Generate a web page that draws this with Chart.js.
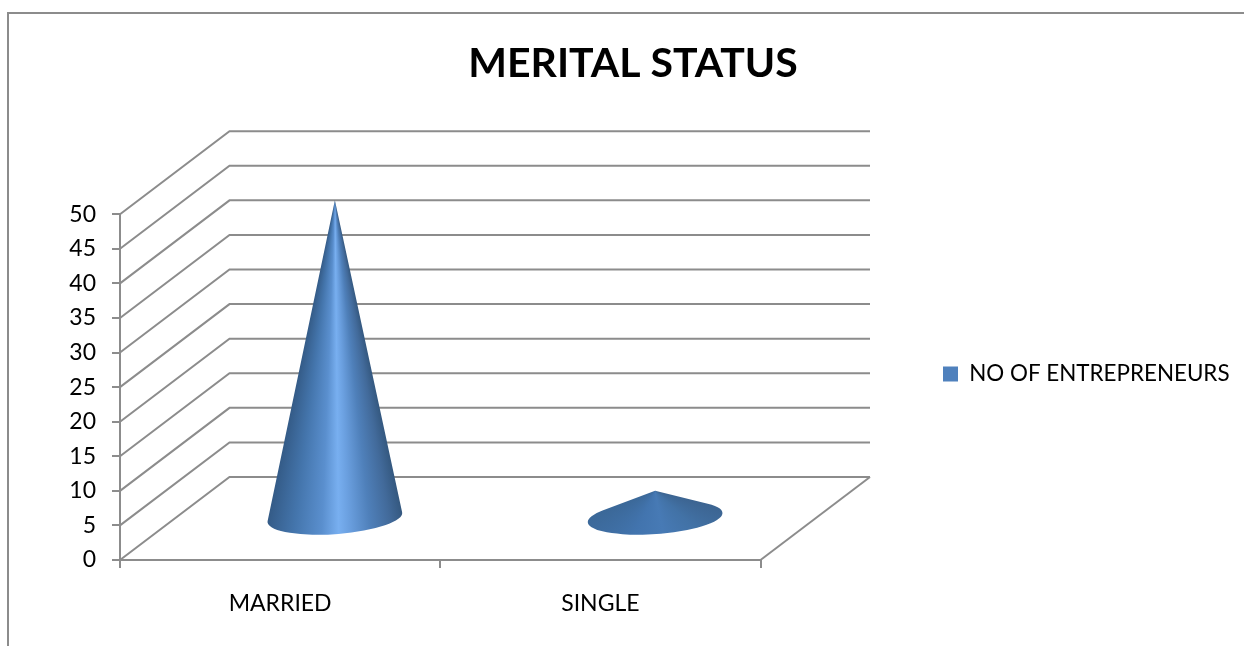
<!DOCTYPE html>
<html>
<head>
<meta charset="utf-8">
<title>Merital status</title>
<script src="https://cdn.jsdelivr.net/npm/chart.js@4"></script>
<style>
    html, body { margin: 0; padding: 0; background: #fff; }
    #wrap { width: 1244px; height: 646px; }
</style>
</head>
<body>
<div id="wrap"><canvas id="statusChart" width="1244" height="646"></canvas></div>
<script>
const categories = ['MARRIED', 'SINGLE'];
const entrepreneurs = [46, 4];
const seriesName = 'NO OF ENTREPRENEURS';
const chartTitle = 'MERITAL STATUS';
const yMax = 50;
const yStep = 5;

const GREY = '#8c8c8c';
const FONT = 'Lato';
// offset of the back wall from the front plane
const DEPTH_X = 109.5;
const DEPTH_Y = 83;

// shading of each cone, left edge to right edge
const coneShades = [
    [[0, '#345b87'], [0.2, '#4475ac'], [0.4, '#5a8fce'], [0.52, '#78aff0'], [0.6, '#6a9fdf'], [0.75, '#4f80ba'], [0.9, '#426a9a'], [1, '#34587f']],
    [[0, '#3b6898'], [0.3, '#4274ae'], [0.55, '#477ab5'], [0.8, '#4272a6'], [1, '#3c6491']]
];

function drawCone(ctx, x, tipY, baseY, shades) {
    const rx = 67.5, ry = 16.6, rot = -0.07;
    const cx = x + DEPTH_X / 2;
    const cy = baseY - DEPTH_Y / 2;
    const tipX = cx;
    const top = tipY - DEPTH_Y / 2;

    // tangent points from the tip onto the tilted base ellipse
    const dx = tipX - cx, dy = top - cy;
    const u = (dx * Math.cos(rot) + dy * Math.sin(rot)) / rx;
    const v = (-dx * Math.sin(rot) + dy * Math.cos(rot)) / ry;
    const mid = Math.atan2(v, u);
    const spread = Math.acos(1 / Math.hypot(u, v));
    const a1 = mid + spread, a2 = mid - spread;
    const onEllipse = a => [
        cx + rx * Math.cos(a) * Math.cos(rot) - ry * Math.sin(a) * Math.sin(rot),
        cy + rx * Math.cos(a) * Math.sin(rot) + ry * Math.sin(a) * Math.cos(rot)
    ];
    const pr = onEllipse(a1), pl = onEllipse(a2);

    // shading fans out from the tip
    const startAngle = Math.atan2(pr[1] - top, pr[0] - tipX);
    const endAngle = Math.atan2(pl[1] - top, pl[0] - tipX);
    const span = (endAngle - startAngle) / (2 * Math.PI);
    const grad = ctx.createConicGradient(startAngle, tipX, top);
    shades.forEach(([t, colour]) => grad.addColorStop((1 - t) * span, colour));
    grad.addColorStop(Math.min(span + 0.001, 1), shades[0][1]);
    grad.addColorStop(1, shades[shades.length - 1][1]);

    ctx.save();
    ctx.beginPath();
    ctx.moveTo(tipX, top);
    ctx.ellipse(cx, cy, rx, ry, rot, a1, a2, false);
    ctx.closePath();
    ctx.fillStyle = grad;
    ctx.fill();
    ctx.restore();
}

const wallsAndCones = {
    id: 'wallsAndCones',
    afterLayout(chart) {
        // title and legend sit outside the plot's own column
        chart.titleBlock.left = 0;
        chart.titleBlock.right = 1266;
        const legend = chart.legend;
        legend.left = 933;
        legend.right = 1244;
        legend.top += 51;
        legend.bottom += 51;
    },
    beforeDraw(chart) {
        const ctx = chart.ctx;
        ctx.save();
        ctx.strokeStyle = GREY;
        ctx.lineWidth = 2;
        ctx.beginPath();
        ctx.moveTo(8, 646);
        ctx.lineTo(8, 13);
        ctx.lineTo(1244, 13);
        ctx.stroke();
        ctx.restore();
    },
    beforeDatasetsDraw(chart) {
        const ctx = chart.ctx;
        const y = chart.scales.y, x = chart.scales.x;
        ctx.save();
        ctx.strokeStyle = GREY;
        ctx.lineWidth = 2;
        y.ticks.forEach((tick, i) => {
            const py = y.getPixelForTick(i);
            ctx.beginPath();
            ctx.moveTo(x.left, py);
            ctx.lineTo(x.left + DEPTH_X, py - DEPTH_Y);
            ctx.lineTo(x.right + DEPTH_X, py - DEPTH_Y);
            ctx.stroke();
        });
        // right edge of the floor
        ctx.beginPath();
        ctx.moveTo(x.right, y.bottom);
        ctx.lineTo(x.right + DEPTH_X, y.bottom - DEPTH_Y);
        ctx.stroke();
        ctx.restore();
    },
    beforeDatasetDraw(chart, args) {
        args.meta.data.forEach((bar, i) => {
            drawCone(chart.ctx, bar.x, bar.y, bar.base, coneShades[i]);
        });
        return false;
    }
};

new Chart(document.getElementById('statusChart'), {
    type: 'bar',
    data: {
        labels: categories,
        datasets: [{
            label: seriesName,
            data: entrepreneurs,
            backgroundColor: '#4f81bd',
            borderWidth: 0
        }]
    },
    plugins: [wallsAndCones],
    options: {
        responsive: false,
        animation: false,
        layout: { padding: { left: 0, right: 230, top: 0, bottom: 0 } },
        plugins: {
            tooltip: { enabled: false },
            title: {
                display: true,
                text: chartTitle,
                color: '#000',
                font: { family: FONT, size: 41, weight: 'bold' },
                padding: { top: 39, bottom: 126 }
            },
            legend: {
                position: 'right',
                labels: {
                    boxWidth: 15,
                    boxHeight: 15,
                    color: '#000',
                    font: { family: FONT, size: 22.4 }
                }
            }
        },
        scales: {
            x: {
                afterFit(scale) { scale.height = 86; },
                border: { color: GREY, width: 2 },
                grid: { color: GREY, lineWidth: 2, tickLength: 8, drawOnChartArea: false },
                ticks: { color: '#000', padding: 22, font: { family: FONT, size: 23 } }
            },
            y: {
                min: 0,
                max: yMax,
                afterFit(scale) { scale.width = 120; },
                border: { color: GREY, width: 2 },
                grid: { color: GREY, lineWidth: 2, tickLength: 8, drawOnChartArea: false },
                ticks: { stepSize: yStep, color: '#000', padding: 16, font: { family: FONT, size: 23 } }
            }
        }
    }
});
</script>
</body>
</html>
